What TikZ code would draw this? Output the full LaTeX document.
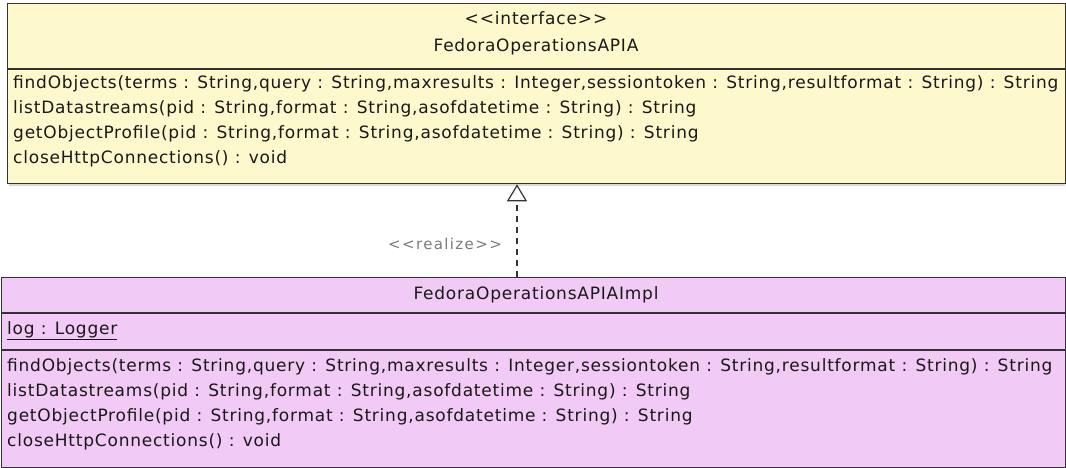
\documentclass[tikz,border=0pt]{standalone}
\usepackage{fontspec}
\newfontfamily\umlfont{DejaVu Sans}[LetterSpace=4.6]
\newfontfamily\lblfont{DejaVu Sans}[LetterSpace=9]
\usetikzlibrary{arrows.meta}
\definecolor{ifill}{HTML}{FEF8CD}
\definecolor{cfill}{HTML}{F1CAF6}
\definecolor{bline}{HTML}{333333}
\definecolor{lblgray}{HTML}{7A7A7A}
\tikzset{
  x=1pt,y=-1pt,
  umlbox/.style={draw=bline,line width=1.3pt,anchor=north west,inner sep=0pt},
  sepline/.style={draw=bline,line width=1.3pt},
  member/.style={anchor=west,inner sep=0pt,font=\umlfont\fontsize{17}{19}\selectfont,text=black!90},
  title/.style={anchor=center,inner sep=0pt,font=\umlfont\fontsize{17}{19}\selectfont,text=black!90},
}
\begin{document}
\begin{tikzpicture}
\useasboundingbox (0,0) rectangle (1066,468);
% interface box
\fill[gray!30] (9,184) rectangle (1065,186);
\node[umlbox,fill=ifill,minimum width=1058pt,minimum height=180pt] (iface) at (7,3) {};
\draw[sepline] (iface.west |- 0,69) -- (iface.east |- 0,69);
\node[title] (st) at (536,18) {<\kern1pt<interface>\kern1pt>};
\node[title] (iname) at (536,47) {FedoraOperationsAPIA};
\node[member] (im1) at (13,84) {findObjects(terms : String,query : String,maxresults : Integer,sessiontoken : String,resultformat : String) : String};
\node[member] (im2) at (13,109) {listDatastreams(pid : String,format : String,asofdatetime : String) : String};
\node[member] (im3) at (13,134) {getObjectProfile(pid : String,format : String,asofdatetime : String) : String};
\node[member] (im4) at (13,159) {closeHttpConnections() : void};
% implementation box
\node[umlbox,fill=cfill,minimum width=1064pt,minimum height=190pt] (impl) at (1,277) {};
\draw[sepline] (impl.west |- 0,313) -- (impl.east |- 0,313);
\draw[sepline] (impl.west |- 0,350) -- (impl.east |- 0,350);
\node[title] (cname) at (536,295) {FedoraOperationsAPIAImpl};
\node[member] (attr) at (7,331) {\underline{log : Logger}};
\node[member] (cm1) at (7,367) {findObjects(terms : String,query : String,maxresults : Integer,sessiontoken : String,resultformat : String) : String};
\node[member] (cm2) at (7,392) {listDatastreams(pid : String,format : String,asofdatetime : String) : String};
\node[member] (cm3) at (7,417) {getObjectProfile(pid : String,format : String,asofdatetime : String) : String};
\node[member] (cm4) at (7,442) {closeHttpConnections() : void};
% realization
\coordinate (rx) at (517,0);
\draw[bline,line width=1.2pt,dash pattern=on 6pt off 5pt,-{Triangle[open,length=17pt,width=20pt,line width=1.2pt]}] (impl.north -| rx) -- (iface.south -| rx);
\node[anchor=center,inner sep=0pt,font=\lblfont\fontsize{15}{17}\selectfont,text=lblgray] (rl) at (445,244) {<\kern1.5pt<realize>\kern1.5pt>};
\end{tikzpicture}
\end{document}
